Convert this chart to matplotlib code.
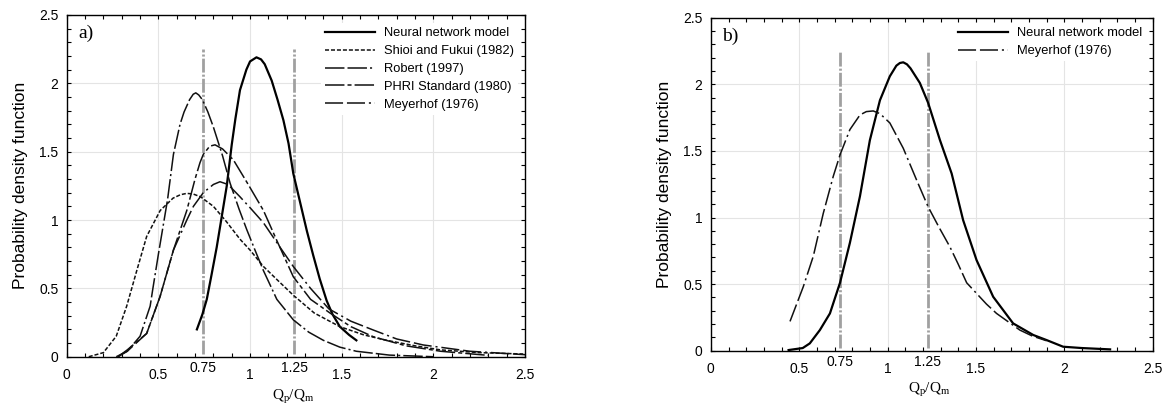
import matplotlib
matplotlib.use("Agg")
import matplotlib.pyplot as plt
from matplotlib.ticker import MultipleLocator

plt.rcParams["font.family"] = ["Liberation Sans", "DejaVu Sans"]
plt.rcParams["mathtext.fontset"] = "custom"
plt.rcParams["mathtext.rm"] = "Liberation Serif"
plt.rcParams["lines.scale_dashes"] = False

# panel a) curves
nn_a_x = [0.71, 0.74, 0.764, 0.79, 0.818, 0.845, 0.873, 0.90, 0.92, 0.945, 0.98,
          1.0, 1.035, 1.06, 1.08, 1.118, 1.15, 1.182, 1.21, 1.236, 1.273, 1.31,
          1.345, 1.38, 1.418, 1.45, 1.49, 1.54, 1.58]
nn_a_y = [0.20, 0.31, 0.42, 0.60, 0.80, 1.02, 1.25, 1.55, 1.74, 1.95, 2.10,
          2.16, 2.19, 2.175, 2.14, 2.02, 1.88, 1.73, 1.56, 1.34, 1.13, 0.92,
          0.74, 0.57, 0.41, 0.31, 0.22, 0.16, 0.12]

shioi_x = [0.12, 0.2, 0.27, 0.327, 0.382, 0.436, 0.51, 0.58, 0.62, 0.655, 0.69,
           0.73, 0.80, 0.87, 0.945, 1.0, 1.073, 1.15, 1.236, 1.35, 1.49, 1.62,
           1.745, 1.9, 2.04, 2.25, 2.49]
shioi_y = [0.0, 0.03, 0.15, 0.37, 0.63, 0.88, 1.07, 1.16, 1.185, 1.195, 1.19,
           1.17, 1.10, 0.99, 0.86, 0.78, 0.66, 0.56, 0.45, 0.32, 0.22, 0.16,
           0.12, 0.08, 0.05, 0.03, 0.02]

robert_x = [0.27, 0.33, 0.40, 0.455, 0.47, 0.50, 0.55, 0.582, 0.618, 0.64, 0.67,
            0.69, 0.704, 0.72, 0.74, 0.77, 0.80, 0.85, 0.891, 0.94, 0.982,
            1.027, 1.073, 1.146, 1.236, 1.32, 1.40, 1.49, 1.58, 1.76, 2.0]
robert_y = [0.0, 0.04, 0.15, 0.37, 0.50, 0.75, 1.15, 1.48, 1.70, 1.79, 1.88,
            1.92, 1.93, 1.915, 1.88, 1.79, 1.68, 1.47, 1.27, 1.08, 0.93,
            0.78, 0.63, 0.42, 0.27, 0.18, 0.12, 0.07, 0.04, 0.012, 0.0]

phri_x = [0.28, 0.33, 0.436, 0.509, 0.582, 0.655, 0.70, 0.727, 0.745, 0.78,
          0.809, 0.85, 0.909, 0.99, 1.073, 1.146, 1.236, 1.33, 1.436, 1.55,
          1.673, 1.85, 2.04, 2.3]
phri_y = [0.0, 0.05, 0.17, 0.44, 0.78, 1.07, 1.30, 1.42, 1.48, 1.54,
          1.55, 1.52, 1.44, 1.26, 1.07, 0.85, 0.585, 0.42, 0.32, 0.22,
          0.146, 0.08, 0.04, 0.01]

meyer_a_x = [0.28, 0.33, 0.436, 0.509, 0.582, 0.655, 0.691, 0.745, 0.80, 0.836,
             0.88, 0.945, 1.0, 1.073, 1.164, 1.236, 1.33, 1.43, 1.55, 1.673,
             1.80, 1.945, 2.2, 2.5]
meyer_a_y = [0.0, 0.04, 0.17, 0.44, 0.78, 1.00, 1.10, 1.20, 1.26, 1.28,
             1.26, 1.17, 1.09, 0.98, 0.80, 0.66, 0.50, 0.35, 0.26, 0.195,
             0.13, 0.086, 0.04, 0.015]

# panel b) curves
nn_b_x = [0.44, 0.52, 0.56, 0.617, 0.674, 0.731, 0.787, 0.844, 0.90, 0.957,
          1.013, 1.05, 1.07, 1.089, 1.11, 1.13, 1.183, 1.23, 1.297, 1.363,
          1.428, 1.504, 1.598, 1.711, 1.825, 1.90, 1.994, 2.1, 2.26]
nn_b_y = [0.005, 0.02, 0.055, 0.155, 0.28, 0.51, 0.81, 1.16, 1.58, 1.88,
          2.06, 2.14, 2.16, 2.165, 2.15, 2.12, 2.01, 1.86, 1.58, 1.33,
          0.98, 0.68, 0.405, 0.205, 0.118, 0.08, 0.03, 0.02, 0.01]

meyer_b_x = [0.448, 0.523, 0.58, 0.636, 0.693, 0.731, 0.787, 0.844, 0.88, 0.919,
             0.957, 1.013, 1.089, 1.165, 1.23, 1.29, 1.353, 1.40, 1.448, 1.504,
             1.56, 1.617, 1.749, 1.82, 1.90]
meyer_b_y = [0.22, 0.48, 0.71, 1.03, 1.31, 1.47, 1.66, 1.77, 1.795, 1.80,
             1.78, 1.71, 1.52, 1.28, 1.08, 0.93, 0.78, 0.65, 0.51, 0.43,
             0.35, 0.28, 0.155, 0.11, 0.075]

# reference bounds 0.75 / 1.25 as drawn
bounds_a = [0.745, 1.24]
bounds_b = [0.73, 1.228]
bound_labels = ["0.75", "1.25"]

major_ticks = [0, 0.5, 1, 1.5, 2, 2.5]
tick_labels = ["0", "0.5", "1", "1.5", "2", "2.5"]

STYLES = {
    "Neural network model": dict(color="black", lw=1.6, ls="-"),
    "Shioi and Fukui (1982)": dict(color="#111111", lw=1.1, dashes=(2.9, 1.4)),
    "Robert (1997)": dict(color="#111111", lw=1.1,
                          dashes=(14, 2.2, 14, 2.2, 1.5, 2.2)),
    "PHRI Standard (1980)": dict(color="#111111", lw=1.1,
                                 dashes=(14, 2.2, 2.9, 2.2)),
    "Meyerhof (1976)": dict(color="#111111", lw=1.1,
                            dashes=(13, 2.8, 13, 2.8, 1.5, 2.8)),
}


def style_axes(ax, bounds, tag):
    ax.set_xlim(0, 2.5)
    ax.set_ylim(0, 2.5)
    ax.set_xticks(major_ticks)
    ax.set_xticklabels(tick_labels)
    ax.set_yticks(major_ticks)
    ax.set_yticklabels(tick_labels)
    ax.xaxis.set_minor_locator(MultipleLocator(0.1))
    ax.yaxis.set_minor_locator(MultipleLocator(0.1))
    ax.tick_params(which="both", direction="in", top=True, right=True,
                   length=3, width=0.8, labelsize=10)
    ax.tick_params(axis="x", pad=8)
    ax.tick_params(axis="y", pad=6)
    ax.grid(True, which="major", color="#e4e4e4", lw=0.8)
    ax.set_axisbelow(True)
    for s in ax.spines.values():
        s.set_linewidth(1.0)
    for xb, lab in zip(bounds, bound_labels):
        ax.plot([xb, xb], [0.02, 2.25], color="#a0a0a0", lw=2.0,
                dashes=(10, 1.5, 1.5, 1.5), zorder=1.5)
        ax.annotate(lab, xy=(xb, 0), xycoords=("data", "axes fraction"),
                    xytext=(0, -8), textcoords="offset points",
                    ha="center", va="center", fontsize=10)
    ax.set_ylabel("Probability density function", fontsize=12.5, labelpad=8)
    ax.set_xlabel(r"$\mathrm{Q_p/Q_m}$", fontsize=11)
    ax.xaxis.set_label_coords(0.494, -0.092)
    ax.text(0.025, 0.945, tag, transform=ax.transAxes, fontsize=14,
            family="Liberation Serif", va="center", ha="left")


fig = plt.figure(figsize=(11.69, 4.04), dpi=100)
ax1 = fig.add_axes([0.0571, 0.117, 0.392, 0.846])
ax2 = fig.add_axes([0.6081, 0.1319, 0.3778, 0.8243])

for name, xs, ys in [("Neural network model", nn_a_x, nn_a_y),
                     ("Shioi and Fukui (1982)", shioi_x, shioi_y),
                     ("Robert (1997)", robert_x, robert_y),
                     ("PHRI Standard (1980)", phri_x, phri_y),
                     ("Meyerhof (1976)", meyer_a_x, meyer_a_y)]:
    ax1.plot(xs, ys, label=name, **STYLES[name])

for name, xs, ys in [("Neural network model", nn_b_x, nn_b_y),
                     ("Meyerhof (1976)", meyer_b_x, meyer_b_y)]:
    ax2.plot(xs, ys, label=name, **STYLES[name])

style_axes(ax1, bounds_a, "a)")
style_axes(ax2, bounds_b, "b)")

for ax, anchor in [(ax1, (0.555, 0.975)), (ax2, (0.5504, 0.9826))]:
    leg = ax.legend(loc="upper left", bbox_to_anchor=anchor,
                    prop={"family": ["Liberation Sans"], "size": 9.3},
                    handlelength=3.9, handletextpad=0.7, labelspacing=0.45,
                    borderpad=0.3, borderaxespad=0, frameon=True,
                    fancybox=False, framealpha=1)
    leg.get_frame().set_edgecolor("none")

fig.savefig("out.png", dpi=100)
